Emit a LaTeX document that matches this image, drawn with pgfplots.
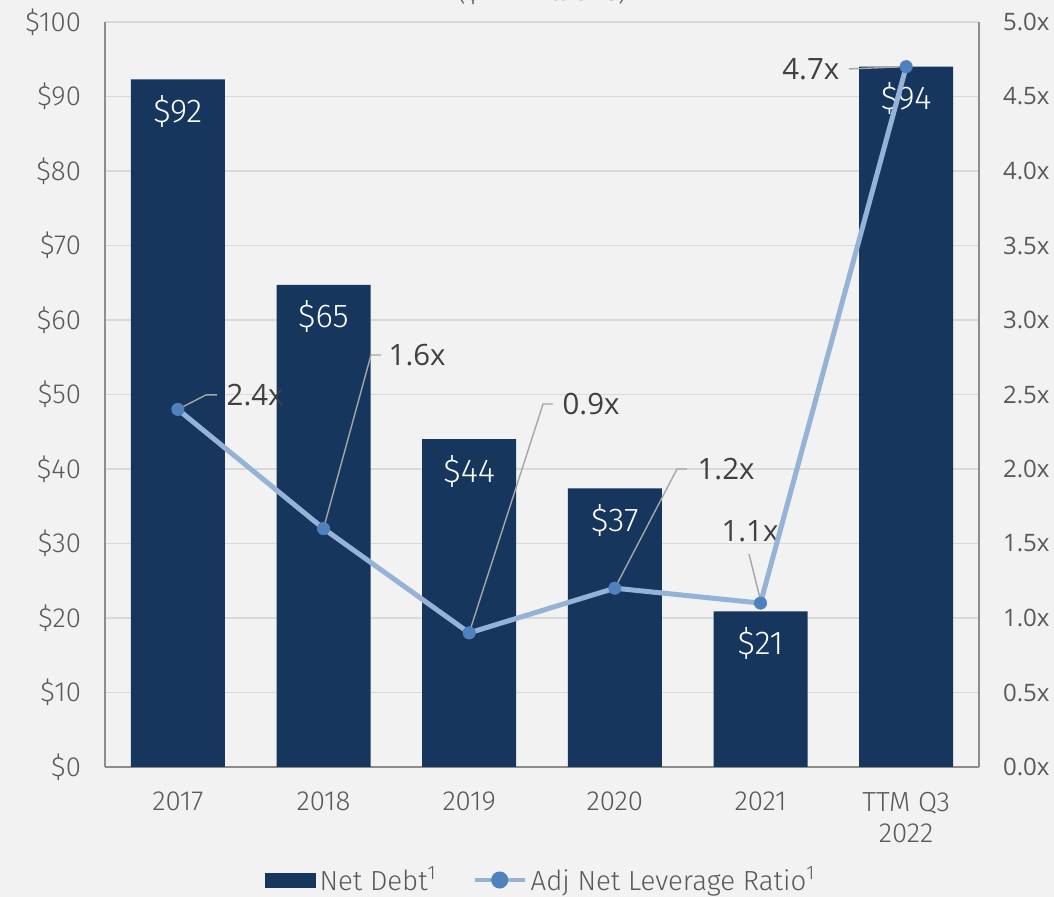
\documentclass[border=0pt]{standalone}
\usepackage{pgfplots}
\pgfplotsset{compat=1.18}
\usepackage{fontspec}
\setmainfont{Fira Sans Light}
\newfontfamily\osans{Open Sans}
\definecolor{bg}{HTML}{F2F2F2}
\definecolor{navy}{HTML}{17365D}
\definecolor{lineblue}{HTML}{95B3D7}
\definecolor{markblue}{HTML}{4F81BD}
\definecolor{gridgray}{HTML}{D9D9D9}
\definecolor{axgray}{HTML}{8C8C8C}
\definecolor{tickgray}{HTML}{595959}
\definecolor{lblgray}{HTML}{404040}
\definecolor{leadgray}{HTML}{A6A6A6}
\begin{document}
\begin{tikzpicture}
\path[use as bounding box, fill=bg] (-52.5pt,-65pt) rectangle (474.5pt,383.5pt);
\begin{axis}[
  scale only axis, width=437pt, height=372.5pt,
  xmin=-0.5, xmax=5.5, ymin=0, ymax=100,
  axis x line*=bottom, axis y line*=left,
  axis line style={axgray, line width=1pt},
  xtick={0,1,2,3,4,5},
  xticklabels={2017,2018,2019,2020,2021,{TTM Q3\\2022}},
  xticklabel style={align=center, text=tickgray, font=\fontsize{13.8}{15.5}\selectfont, yshift=-9pt},
  ytick={0,10,...,100},
  yticklabels={\$0,\$10,\$20,\$30,\$40,\$50,\$60,\$70,\$80,\$90,\$100},
  yticklabel style={text=tickgray, font=\fontsize{13.8}{15.5}\selectfont, xshift=-8.5pt},
  major tick length=0pt,
  ymajorgrids, grid style={gridgray, line width=0.7pt},
  clip=false,
]
\addplot[ybar, bar width=47pt, fill=navy, draw=none,
  point meta=explicit symbolic, nodes near coords,
  every node near coord/.append style={anchor=center, yshift=-16pt, text=white, font=\fontsize{16.5}{18}\selectfont}]
  coordinates {(0,92.3) [\$92] (1,64.7) [\$65] (2,44.0) [\$44] (3,37.4) [\$37] (4,20.9) [\$21] (5,94.0) [\$94]};
\node[anchor=base, text=tickgray, font=\fontsize{13.8}{15.5}\selectfont] at (rel axis cs:0.5,1) [yshift=10.5pt] {(\$ in millions)};
\end{axis}
\begin{axis}[
  scale only axis, width=437pt, height=372.5pt,
  xmin=-0.5, xmax=5.5, ymin=0, ymax=5,
  axis x line=none, axis y line*=right,
  axis line style={axgray, line width=1pt},
  ytick={0,0.5,...,5},
  yticklabels={0.0x,0.5x,1.0x,1.5x,2.0x,2.5x,3.0x,3.5x,4.0x,4.5x,5.0x},
  yticklabel style={text=tickgray, font=\osans\fontsize{12}{14}\selectfont, xshift=8.5pt},
  major tick length=0pt,
  clip=false,
  legend style={at={(0.5,-0.1517)}, anchor=center, legend columns=2, draw=none, fill=none,
    font=\fontsize{13.8}{15.5}\selectfont, text=tickgray,
    /tikz/every even column/.append style={column sep=16pt},
    cells={anchor=west}},
]
\addlegendimage{legend image code/.code={\fill[navy] (0pt,-3.5pt) rectangle (25pt,3.5pt);}}
\addlegendentry{Net Debt\textsuperscript{1}}
\draw[leadgray, line width=0.7pt] (axis cs:0,2.4) -- (axis cs:0.193,2.497) -- (axis cs:0.269,2.497)
  node[anchor=west, inner sep=0pt, xshift=4.5pt, text=lblgray, font=\osans\fontsize{14.7}{16}\selectfont] {2.4x};
\draw[leadgray, line width=0.7pt] (axis cs:1,1.6) -- (axis cs:1.326,2.765) -- (axis cs:1.395,2.765)
  node[anchor=west, inner sep=0pt, xshift=3.5pt, text=lblgray, font=\osans\fontsize{14.7}{16}\selectfont] {1.6x};
\draw[leadgray, line width=0.7pt] (axis cs:2,0.9) -- (axis cs:2.507,2.436) -- (axis cs:2.575,2.436)
  node[anchor=west, inner sep=0pt, xshift=4.5pt, text=lblgray, font=\osans\fontsize{14.7}{16}\selectfont] {0.9x};
\draw[leadgray, line width=0.7pt] (axis cs:3,1.2) -- (axis cs:3.427,2.0) -- (axis cs:3.495,2.0)
  node[anchor=west, inner sep=0pt, xshift=5pt, text=lblgray, font=\osans\fontsize{14.7}{16}\selectfont] {1.2x};
\draw[leadgray, line width=0.7pt] (axis cs:4,1.12) -- (axis cs:3.921,1.43);
\node[inner sep=0pt, text=lblgray, font=\osans\fontsize{14.7}{16}\selectfont] at (axis cs:3.928,1.584) {1.1x};
\draw[leadgray, line width=0.7pt] (axis cs:5,4.7) -- (axis cs:4.607,4.685)
  node[anchor=east, inner sep=0pt, xshift=-4.5pt, text=lblgray, font=\osans\fontsize{14.7}{16}\selectfont] {4.7x};
\addplot[lineblue, line width=2.5pt, mark=*, mark size=3.1pt,
  mark options={solid, draw=markblue, fill=markblue, line width=0.3pt},
  legend image code/.code={\draw[lineblue, line width=2pt] (0pt,0pt) -- (25pt,0pt); \fill[markblue] (12.5pt,0pt) circle (3pt);}]
  coordinates {(0,2.4) (1,1.6) (2,0.9) (3,1.2) (4,1.1) (5,4.7)};
\addlegendentry{Adj Net Leverage Ratio\textsuperscript{1}}
\end{axis}
\end{tikzpicture}
\end{document}
